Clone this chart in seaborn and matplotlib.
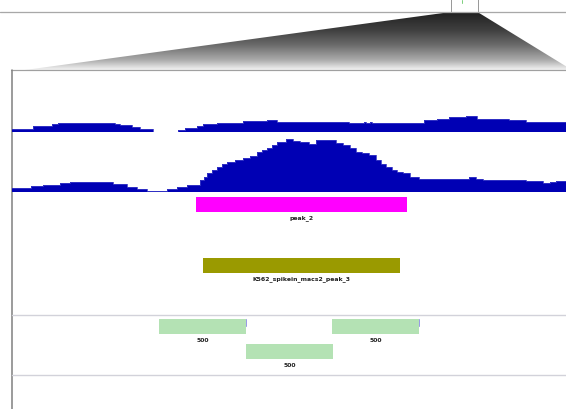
import numpy as np
import pandas as pd
import matplotlib
matplotlib.use("Agg")
import matplotlib.pyplot as plt
import seaborn as sns
from matplotlib.patches import Polygon, Rectangle

sns.set_style("white")
plt.rcParams['font.family'] = ['DejaVu Sans']

W, H = 566, 409

# ---------------- data ----------------
# view window (position units)
view_start, view_end = 12, 566

# signal track 1: step breakpoints (position, coverage)
track1_pos = [12, 33, 52, 58, 115, 120, 132, 140, 153, 178, 185, 197, 203, 217,
              243, 257, 267, 277, 300, 349, 364, 366, 370, 372, 423, 424, 437,
              449, 466, 477, 509, 526, 560]
track1_val = [3, 6.3, 8, 9.5, 8, 7, 5, 3, 0.6, 2.7, 4, 6.3, 8, 9.7,
              11, 11.5, 12, 10.5, 10, 9, 10, 9, 10, 9, 9.5, 12, 13,
              15, 16, 13, 12, 10.5, 10]

# signal track 2
track2_pos = [12, 31, 43, 60, 70, 107, 113, 127, 137, 147, 163, 167, 177, 187,
              200, 204, 207, 212, 217, 222, 227, 235, 243, 250, 257, 262, 267,
              272, 277, 286, 293, 300, 309, 316, 329, 336, 343, 350, 356, 362,
              369, 376, 381, 386, 392, 397, 403, 410, 419, 440, 469, 476, 483,
              500, 526, 543, 550, 556]
track2_val = [3.4, 5.7, 6.7, 9, 9.7, 9.7, 7.7, 5, 2.7, 0.7, 0.7, 2.4, 5, 6.7,
              11.7, 15, 18.4, 22, 25, 28, 30, 32, 33.4, 36, 40, 42, 43.4,
              47, 50, 52.4, 51, 50, 48, 51.7, 51.7, 49, 47, 44, 40, 38.5,
              37, 31.7, 28, 25, 22, 20, 18.4, 15, 12.7, 13, 14.4, 12.5, 11.7,
              11.5, 10.7, 9, 10, 11]

# peak features
peak_names = ["peak_2", "K562_spikein_macs2_peak_3"]
peak_starts = [196, 203]
peak_ends = [407, 400]
peak_colors = ["#ff00ff", "#9a9a00"]

# scored features (green)
feat_labels = ["500", "500", "500"]
feat_starts = [159, 332, 246]
feat_ends = [246, 419, 332.7]
feat_rows = [0, 0, 1]

# ---------------- figure ----------------
fig = plt.figure(figsize=(W / 100, H / 100), dpi=100)
fig.patch.set_facecolor("white")


def px_axes(x0, y0, x1, y1, z=1):
    a = fig.add_axes([x0 / W, 1 - y1 / H, (x1 - x0) / W, (y1 - y0) / H])
    a.set_facecolor("none")
    a.set_axis_off()
    a.set_zorder(z)
    return a


PT = 0.72  # points per pixel

# canvas for overview decoration
ax0 = px_axes(0, 0, W, H, z=0)

# gradient zoom trapezoid
poly = Polygon([(450.5, 12), (477.5, 12), (572, 70), (25, 70)], closed=True,
               facecolor="none", edgecolor="none")
ax0.add_patch(poly)
yy_g = np.linspace(12, 70, 300)
shade = np.interp(yy_g, [12, 30, 45, 60, 67, 70],
                  [0.13, 0.25, 0.42, 0.67, 0.87, 0.95])
im = ax0.imshow(shade.reshape(-1, 1), cmap="gray", vmin=0, vmax=1,
                aspect="auto", origin="upper",
                extent=(0, W, 70, 12), interpolation="bilinear")
im.set_clip_path(poly)

ax0.plot([0, W], [11.5, 11.5], color="#a8a8a8", lw=1.3 * PT)
ax0.add_patch(Rectangle((450.5, -1), 27, 12.5, fill=False,
                        edgecolor="#9a9a9a", lw=1.0 * PT))
ax0.plot([462, 462], [0, 3], color="#80d080", lw=1 * PT)

# panel frame
ax0.plot([11, W], [70.3, 70.3], color="#a0a0a0", lw=1.2 * PT)
ax0.plot([11.5, 11.5], [70, H], color="#858585", lw=1.6 * PT)

# separators
for yy in (314.7, 375):
    ax0.plot([12, W], [yy, yy], color="#d2d2da", lw=1.4 * PT)

ax0.set_xlim(0, W)
ax0.set_ylim(H, 0)

# ---------------- signal tracks ----------------
blue = "#0000b4"


def draw_track(pos, val, y_top, y_base):
    a = px_axes(view_start, y_top, view_end, y_base, z=2)
    p = list(pos) + [view_end]
    v = list(val) + [val[-1]]
    df = pd.DataFrame({"pos": p, "cov": v})
    a.fill_between(df["pos"], df["cov"], step="post", color=blue, lw=0)
    sns.lineplot(data=df, x="pos", y="cov", ax=a, drawstyle="steps-post",
                 estimator=None, sort=False, color="#3a3ac8", lw=0.6)
    a.axhline(0, color="#7a7ad4", lw=1.0 * PT)
    a.set_xlim(view_start, view_end)
    a.set_ylim(0, y_base - y_top)
    a.set_axis_off()
    return a


draw_track(track1_pos, track1_val, 108, 132.3)
draw_track(track2_pos, track2_val, 132.6, 191.7)

# ---------------- feature tracks ----------------
axf = px_axes(view_start, 195, view_end, H, z=3)
axf.set_xlim(view_start, view_end)
axf.set_ylim(H, 195)

label_kw = dict(ha="center", va="center", fontsize=4.4, fontweight="bold",
                color="#202020")

peak_rows_y = [204.3, 265.2]
for name, s, e, c, yc in zip(peak_names, peak_starts, peak_ends,
                             peak_colors, peak_rows_y):
    axf.barh(yc, e - s, left=s, height=14.8, color=c, lw=0)
    axf.text((s + e) / 2, yc + 14.2, name, **label_kw)

green = "#b4e2b4"
row_y = [326.4, 351.4]
for lab, s, e, r in zip(feat_labels, feat_starts, feat_ends, feat_rows):
    yc = row_y[r]
    axf.barh(yc, e - s, left=s, height=14.8, color=green, lw=0)
    if r == 0:
        axf.plot([e - 0.5, e - 0.5], [yc - 7, yc], color="#9a9ae6", lw=1 * PT)
    axf.text((s + e) / 2, yc + 14.2, lab, **label_kw)

fig.savefig("out.png", dpi=100, facecolor="white")
